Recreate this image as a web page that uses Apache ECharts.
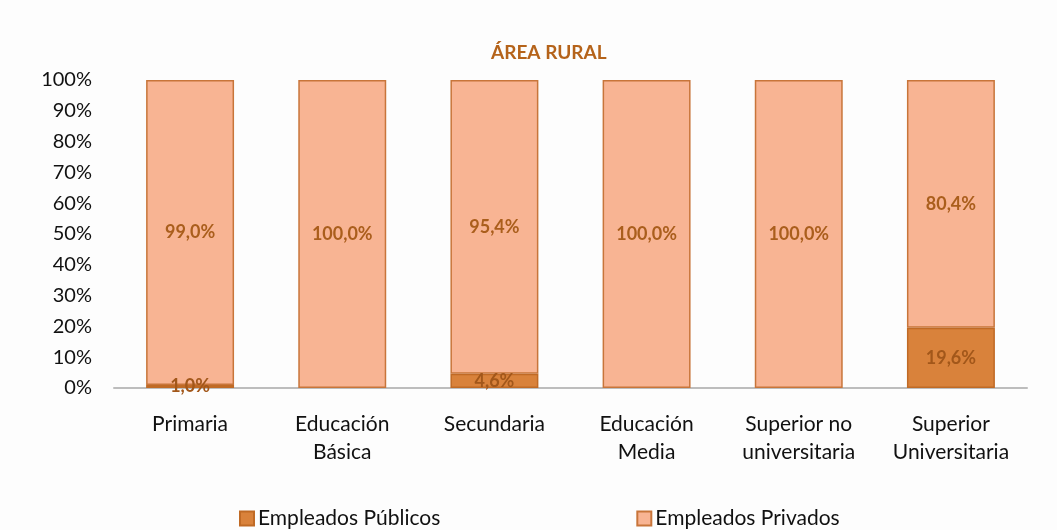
<!DOCTYPE html>
<html>
<head>
<meta charset="utf-8">
<script src="https://cdn.jsdelivr.net/npm/echarts@6/dist/echarts.min.js"></script>
<style>
html,body{margin:0;padding:0;background:#fdfdfd;}
#chartmain{width:1057px;height:530px;}
</style>
</head>
<body>
<div id="chartmain"></div>
<script>
// categorias y valores (%)
var categorias = ['Primaria', 'Educación\nBásica', 'Secundaria', 'Educación\nMedia', 'Superior no\nuniversitaria', 'Superior\nUniversitaria'];
var publicos = [1.0, 0, 4.6, 0, 0, 19.6];
var privados = [99.0, 100.0, 95.4, 100.0, 100.0, 80.4];
var yTicks = [0, 10, 20, 30, 40, 50, 60, 70, 80, 90, 100];

var fuente = 'Lato, "Open Sans", sans-serif';

function etiqueta(p){
    if(!p.value || p.value === '-'){ return ''; }
    return p.value.toFixed(1).replace('.', ',') + '%';
}
// los ceros no se dibujan
function sinCeros(arr){
    return arr.map(function(v){ return v ? v : '-'; });
}

var myChart = echarts.init(document.getElementById('chartmain'));
myChart.setOption({
    backgroundColor: '#fdfdfd',
    animation: false,
    title: {
        text: 'ÁREA RURAL',
        left: 486,
        top: 38,
        textStyle: {color: '#b5631a', fontSize: 19, fontWeight: 'bold', fontFamily: fuente}
    },
    legend: {
        bottom: -4,
        left: 234,
        itemGap: 196,
        itemWidth: 14,
        itemHeight: 14,
        icon: 'rect',
        textStyle: {color: '#111', fontSize: 21, fontFamily: fuente, padding: [0, 0, 0, -1]},
        data: ['Empleados Públicos', 'Empleados Privados']
    },
    grid: {left: 114, right: 30, top: 80, bottom: 142},
    xAxis: {
        type: 'category',
        data: categorias,
        axisTick: {show: false},
        axisLine: {lineStyle: {color: '#bdbdbd', width: 2}},
        axisLabel: {color: '#111', fontSize: 21, lineHeight: 28, margin: 22, fontFamily: fuente}
    },
    yAxis: {
        type: 'value',
        min: 0,
        max: 100,
        interval: 10,
        splitLine: {show: false},
        axisLine: {show: false},
        axisTick: {show: false},
        axisLabel: {
            color: '#111', fontSize: 20, margin: 22, fontFamily: fuente,
            formatter: function(v){ return yTicks.indexOf(v) >= 0 ? v + '%' : ''; }
        }
    },
    series: [{
        name: 'Empleados Públicos',
        type: 'bar',
        stack: 'total',
        barWidth: '57.8%',
        data: sinCeros(publicos),
        itemStyle: {color: '#d9823b', borderColor: '#c06a25', borderWidth: 1.5},
        label: {show: true, position: 'inside', formatter: etiqueta, color: '#a2571a', fontSize: 18, fontWeight: 'bold', fontFamily: fuente}
    }, {
        name: 'Empleados Privados',
        type: 'bar',
        stack: 'total',
        data: sinCeros(privados),
        itemStyle: {color: '#f8b493', borderColor: '#c8753a', borderWidth: 1.5},
        label: {show: true, position: 'inside', formatter: etiqueta, color: '#aa5e1c', fontSize: 18, fontWeight: 'bold', fontFamily: fuente}
    }]
});
</script>
</body>
</html>
